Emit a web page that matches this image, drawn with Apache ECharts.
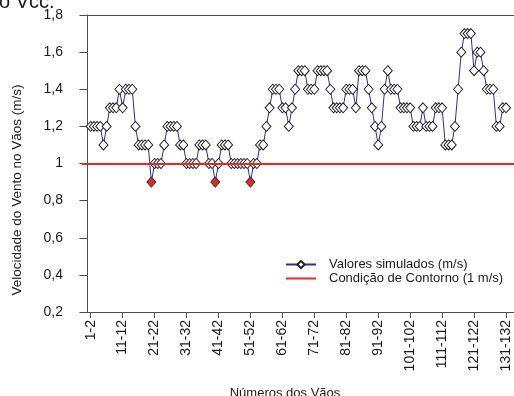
<!DOCTYPE html>
<html>
<head>
<meta charset="utf-8">
<script src="https://cdn.jsdelivr.net/npm/echarts@6/dist/echarts.min.js"></script>
<style>
  html, body { margin: 0; padding: 0; background: #fff; }
  #chart { width: 514px; height: 396px; }
</style>
</head>
<body>
<div id="chart"></div>
<script>
// velocidade simulada em cada vão (vão 1-2 ... 131-132)
const velocities = [
  1.2, 1.2, 1.2, 1.2, 1.1, 1.2, 1.3, 1.3, 1.3, 1.4,
  1.3, 1.4, 1.4, 1.4, 1.2, 1.1, 1.1, 1.1, 1.1, 0.9,
  1.0, 1.0, 1.0, 1.1, 1.2, 1.2, 1.2, 1.2, 1.1, 1.1,
  1.0, 1.0, 1.0, 1.0, 1.1, 1.1, 1.1, 1.0, 1.0, 0.9,
  1.0, 1.1, 1.1, 1.1, 1.0, 1.0, 1.0, 1.0, 1.0, 1.0,
  0.9, 1.0, 1.0, 1.1, 1.1, 1.2, 1.3, 1.4, 1.4, 1.4,
  1.3, 1.3, 1.2, 1.3, 1.4, 1.5, 1.5, 1.5, 1.4, 1.4,
  1.4, 1.5, 1.5, 1.5, 1.5, 1.4, 1.3, 1.3, 1.3, 1.3,
  1.4, 1.4, 1.4, 1.3, 1.5, 1.5, 1.5, 1.4, 1.3, 1.2,
  1.1, 1.2, 1.4, 1.5, 1.4, 1.4, 1.4, 1.3, 1.3, 1.3,
  1.3, 1.2, 1.2, 1.2, 1.3, 1.2, 1.2, 1.2, 1.3, 1.3,
  1.3, 1.1, 1.1, 1.1, 1.2, 1.4, 1.6, 1.7, 1.7, 1.7,
  1.5, 1.6, 1.6, 1.5, 1.4, 1.4, 1.4, 1.2, 1.2, 1.3,
  1.3
]
// primeiro poste de cada vão rotulado no eixo x
const tickSpans = [1, 11, 21, 31, 41, 51, 61, 71, 81, 91, 101, 111, 121, 131]
const boundary = 1 // condição de contorno (m/s)

const font = 'Liberation Sans, Arial, sans-serif'
const axisColor = '#4d4d4d'
const blue = '#2d2d94'
const red = '#e8262b'

const chart = echarts.init(document.getElementById('chart'))
chart.setOption({
  animation: false,
  textStyle: { fontFamily: font, color: '#1a1a1a' },
  grid: { left: 82, top: 15, right: 0, bottom: 84 },
  graphic: [
    {
      type: 'text', left: -1, top: -8,
      style: { text: 'o Vcc.', font: '20px ' + font, fill: '#1a1a1a' }
    },
    {
      type: 'text', x: 17, y: 190, rotation: Math.PI / 2,
      style: {
        text: 'Velocidade do Vento no Vãos (m/s)', font: '13.5px ' + font,
        fill: '#1a1a1a', align: 'center', verticalAlign: 'middle'
      }
    },
    {
      type: 'text', x: 285, y: 393,
      style: {
        text: 'Números dos Vãos', font: '13px ' + font,
        fill: '#1a1a1a', align: 'center', verticalAlign: 'middle'
      }
    }
  ],
  legend: {
    orient: 'vertical',
    left: 280,
    top: 253,
    itemWidth: 30,
    itemHeight: 9,
    itemGap: 1,
    textStyle: { fontSize: 13, fontFamily: font, color: '#1a1a1a', padding: [0, 0, 0, 8] },
    data: [
      { name: 'Valores simulados (m/s)' },
      { name: 'Condição de Contorno (1 m/s)', itemStyle: { opacity: 0 } }
    ]
  },
  xAxis: [
    {
      type: 'value',
      min: -1.72,
      max: 133.5,
      splitLine: { show: false },
      axisLine: { onZero: false, lineStyle: { color: axisColor } },
      axisTick: { customValues: tickSpans, length: 6, lineStyle: { color: axisColor } },
      axisLabel: {
        customValues: tickSpans,
        rotate: 90,
        margin: 8,
        fontSize: 14,
        color: '#1a1a1a',
        formatter: v => v + '-' + (v + 1)
      }
    },
    {
      type: 'value',
      position: 'top',
      min: -1.72,
      max: 133.5,
      splitLine: { show: false },
      axisLine: { show: true, onZero: false, lineStyle: { color: axisColor } },
      axisTick: { show: false },
      axisLabel: { show: false }
    }
  ],
  yAxis: {
    type: 'value',
    min: 0.2,
    max: 1.8,
    interval: 0.2,
    splitLine: { show: false },
    axisLine: { show: true, lineStyle: { color: axisColor } },
    axisTick: { show: true, length: 8, lineStyle: { color: axisColor } },
    axisLabel: {
      margin: 19,
      fontSize: 14,
      color: '#1a1a1a',
      formatter: v => String(+v.toFixed(1)).replace('.', ',')
    }
  },
  series: [
    {
      name: 'Valores simulados (m/s)',
      type: 'line',
      z: 2,
      color: blue,
      showAllSymbol: true,
      symbol: 'diamond',
      symbolSize: [9, 10],
      lineStyle: { color: blue, width: 1 },
      itemStyle: { color: '#fff', borderColor: '#222', borderWidth: 1 },
      data: velocities.map((v, i) => ({
        value: [i + 1, v],
        itemStyle: v < boundary ? { color: red, borderColor: '#333' } : undefined
      }))
    },
    {
      name: 'Condição de Contorno (1 m/s)',
      type: 'line',
      z: 3,
      color: red,
      symbol: 'none',
      lineStyle: { color: red, width: 2 },
      data: [],
      markLine: {
        silent: true,
        symbol: ['none', 'none'],
        label: { show: false },
        lineStyle: { color: red, width: 2, type: 'solid' },
        data: [{ yAxis: boundary }]
      }
    }
  ]
})
</script>
</body>
</html>
